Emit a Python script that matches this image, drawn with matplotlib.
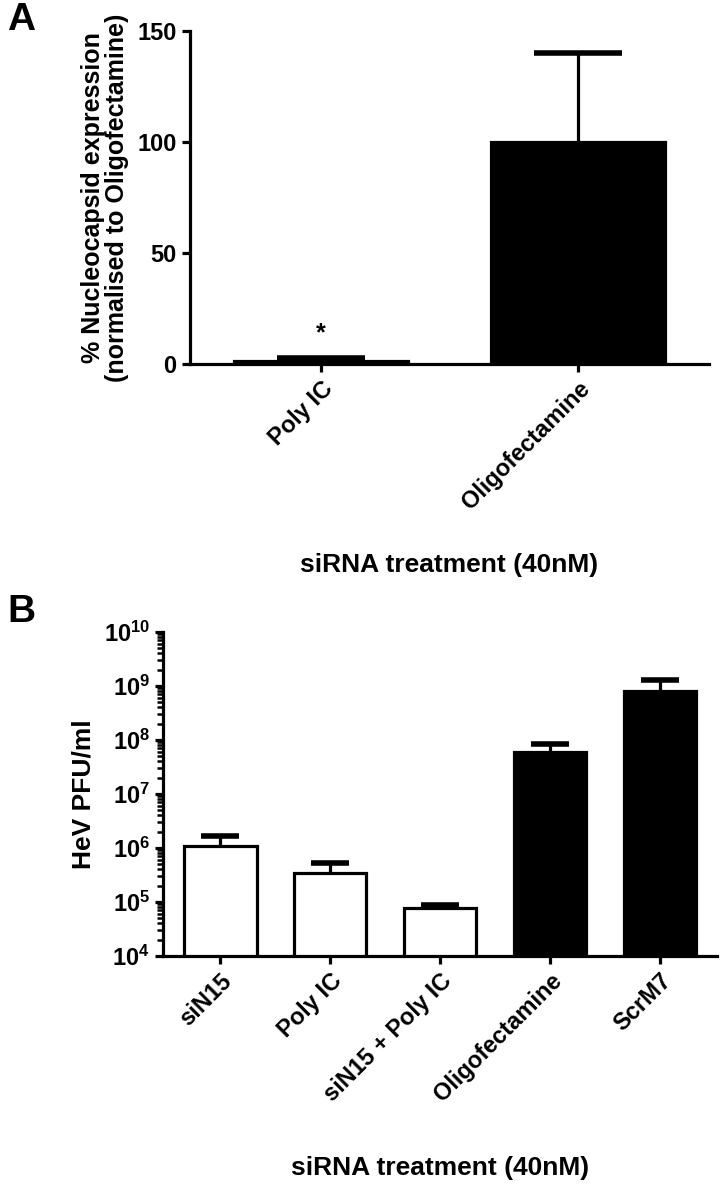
import matplotlib
matplotlib.use('Agg')
import matplotlib.pyplot as plt
from matplotlib.ticker import LogLocator, NullFormatter

plt.rcParams['font.family'] = ['Liberation Sans', 'DejaVu Sans']
plt.rcParams['font.weight'] = 'bold'
plt.rcParams['axes.labelweight'] = 'bold'
plt.rcParams['mathtext.fontset'] = 'custom'
plt.rcParams['mathtext.rm'] = 'Liberation Sans:bold'
plt.rcParams['mathtext.bf'] = 'Liberation Sans:bold'
plt.rcParams['mathtext.default'] = 'bf'

""" DATA """
a_labels = ['Poly IC', 'Oligofectamine']
a_values = [1.5, 100]
a_errors = [1.2, 40]

b_labels = ['siN15', 'Poly IC', 'siN15 + Poly IC', 'Oligofectamine', 'ScrM7']
b_values = [1.1e6, 3.5e5, 7.8e4, 6.0e7, 7.9e8]
b_errors = [0.55e6, 1.7e5, 1.0e4, 2.3e7, 5.1e8]
b_colors = ['white', 'white', 'white', 'black', 'black']

LW = 2.3


def style_axes(ax, size):
    for s in ['top', 'right']:
        ax.spines[s].set_visible(False)
    for s in ['left', 'bottom']:
        ax.spines[s].set_linewidth(LW)
    ax.tick_params(axis='both', which='major', width=LW, length=6, labelsize=size)


def upper_errorbar(ax, x, vals, errs, cap):
    eb = ax.errorbar(x, vals, yerr=[[0] * len(vals), errs], fmt='none',
                     ecolor='black', elinewidth=LW, capsize=cap, capthick=4)
    # hide the lower caps sitting on the bar tops
    eb[1][0].set_visible(False)


fig = plt.figure(figsize=(7.22, 11.87), dpi=100)

# panel A
axA = fig.add_axes([0.263, 0.693, 0.719, 0.281])
xa = range(len(a_labels))
axA.bar(xa, a_values, width=0.68, color='black', edgecolor='black', linewidth=LW)
upper_errorbar(axA, xa, a_values, a_errors, 32)
axA.text(0, 14, '*', ha='center', va='center', fontsize=18)
axA.set_xlim(-0.51, 1.51)
axA.set_ylim(0, 150)
axA.set_yticks([0, 50, 100, 150])
axA.set_xticks(list(xa))
axA.set_xticklabels(a_labels, rotation=45, ha='right', rotation_mode='anchor')
axA.set_ylabel('% Nucleocapsid expression\n(normalised to Oligofectamine)',
               fontsize=18, labelpad=6, linespacing=1.0)
axA.set_xlabel('siRNA treatment (40nM)', fontsize=19, labelpad=28)
style_axes(axA, 17)
fig.text(0.01, 0.983, 'A', fontsize=28, fontweight='bold', va='center')

# panel B
axB = fig.add_axes([0.226, 0.1946, 0.767, 0.273])
xb = range(len(b_labels))
axB.bar(xb, b_values, width=0.66, color=b_colors, edgecolor='black', linewidth=LW)
upper_errorbar(axB, xb, b_values, b_errors, 14)
axB.set_yscale('log')
axB.set_ylim(1e4, 1e10)
axB.set_xlim(-0.52, 4.52)
axB.yaxis.set_major_locator(LogLocator(base=10, numticks=12))
axB.yaxis.set_minor_locator(LogLocator(base=10, subs=range(2, 10), numticks=12))
axB.yaxis.set_minor_formatter(NullFormatter())
axB.set_xticks(list(xb))
axB.set_xticklabels(b_labels, rotation=45, ha='right', rotation_mode='anchor')
axB.set_ylabel('HeV PFU/ml', fontsize=19, labelpad=6)
axB.set_xlabel('siRNA treatment (40nM)', fontsize=19, labelpad=36)
style_axes(axB, 17)
axB.tick_params(axis='x', labelsize=17)
axB.tick_params(axis='y', which='minor', width=1.8, length=4)
fig.text(0.01, 0.484, 'B', fontsize=28, fontweight='bold', va='center')

fig.savefig('out.png', dpi=100)
